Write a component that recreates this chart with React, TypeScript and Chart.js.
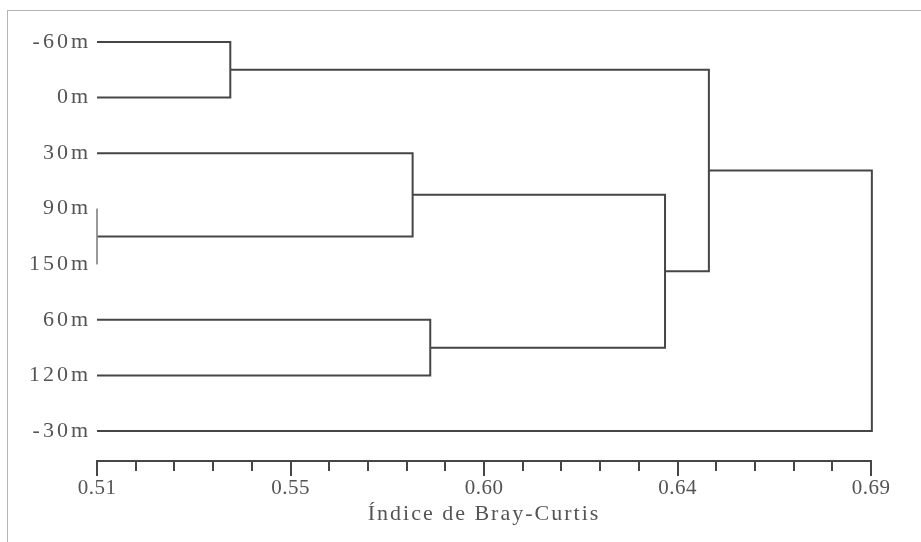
import React, { useEffect, useRef } from "react";
import { Chart, registerables } from "chart.js";

Chart.register(...registerables);

// Leaves from top to bottom
const LEAVES = ["-60m", "0m", "30m", "90m", "150m", "60m", "120m", "-30m"];

// Merges (children are leaf names or "M<n>" = n-th merge, 1-based)
const MERGE_LEFT = ["-60m", "90m", "30m", "60m", "M3", "M1", "M6"];
const MERGE_RIGHT = ["0m", "150m", "M2", "120m", "M4", "M5", "-30m"];
const MERGE_HEIGHT = [0.541, 0.51, 0.5834, 0.5875, 0.6421, 0.6523, 0.6902];

// Axis
const X_MIN = 0.51;
const X_MAX = 0.69;
const X_TICKS = [0.51, 0.555, 0.6, 0.645, 0.69];
const X_TICK_LABELS = ["0.51", "0.55", "0.60", "0.64", "0.69"];
const MINOR_DIV = 5;
const X_TITLE = "Índice de Bray-Curtis";

const LINE_COLOR = "#464646";
const TEXT_COLOR = "#545454";
const FONT_FAMILY = "'Liberation Serif', 'Times New Roman', serif";

type Pt = { x: number; y: number };

function buildSegments() {
  const nodes: Record<string, Pt> = {};
  LEAVES.forEach((name, i) => {
    nodes[name] = { x: X_MIN, y: i };
  });
  const segs: { pts: Pt[]; thin: boolean }[] = [];
  MERGE_HEIGHT.forEach((h, i) => {
    const a = nodes[MERGE_LEFT[i]];
    const b = nodes[MERGE_RIGHT[i]];
    segs.push({
      pts: [
        { x: a.x, y: a.y },
        { x: h, y: a.y },
        { x: h, y: b.y },
        { x: b.x, y: b.y },
      ],
      thin: h <= X_MIN,
    });
    nodes["M" + (i + 1)] = { x: h, y: (a.y + b.y) / 2 };
  });
  return segs;
}

const minorTicksPlugin = {
  id: "minorTicks",
  afterDraw(chart: any) {
    const xs = chart.scales.x;
    const ctx = chart.ctx;
    ctx.save();
    ctx.strokeStyle = LINE_COLOR;
    ctx.lineWidth = 2;
    for (let i = 0; i < X_TICKS.length - 1; i++) {
      for (let k = 1; k < MINOR_DIV; k++) {
        const v = X_TICKS[i] + ((X_TICKS[i + 1] - X_TICKS[i]) * k) / MINOR_DIV;
        const px = Math.round(xs.getPixelForValue(v));
        ctx.beginPath();
        ctx.moveTo(px, xs.top);
        ctx.lineTo(px, xs.top + 10);
        ctx.stroke();
      }
    }
    ctx.restore();
  },
};

const spacingPlugin = {
  id: "letterSpacing",
  beforeDraw(chart: any) {
    const patch = (scale: any, method: string, spacing: string) => {
      if (!scale || scale["__p_" + method]) return;
      const orig = scale[method];
      scale[method] = function (...args: any[]) {
        const ctx = this.ctx;
        const prev = ctx.letterSpacing;
        ctx.letterSpacing = spacing;
        try {
          orig.apply(this, args);
        } finally {
          ctx.letterSpacing = prev;
        }
      };
      scale["__p_" + method] = true;
    };
    patch(chart.scales.y, "drawLabels", "3px");
    patch(chart.scales.x, "drawLabels", "0.5px");
    patch(chart.scales.x, "drawTitle", "2px");
  },
};

export default function App() {
  const ref = useRef<HTMLCanvasElement | null>(null);

  useEffect(() => {
    if (!ref.current) return;
    const segs = buildSegments();
    const chart = new Chart(ref.current, {
      type: "scatter",
      data: {
        datasets: segs.map((s) => ({
          data: s.pts,
          showLine: true,
          clip: false,
          borderColor: s.thin ? "#8a8a8a" : LINE_COLOR,
          borderWidth: s.thin ? 1 : 2,
          pointRadius: 0,
          pointHoverRadius: 0,
          tension: 0,
          fill: false,
        })),
      },
      options: {
        animation: false,
        responsive: false,
        layout: { padding: { top: 14, right: 50, left: 0, bottom: 0 } },
        plugins: { legend: { display: false }, tooltip: { enabled: false } },
        scales: {
          x: {
            type: "linear",
            min: X_MIN,
            max: X_MAX,
            afterBuildTicks: (scale: any) => {
              scale.ticks = X_TICKS.map((v) => ({ value: v }));
            },
            afterFit: (scale: any) => {
              scale.height = 81;
              scale.paddingLeft = 0;
              scale.paddingRight = 0;
            },
            ticks: {
              callback: (_v: any, i: number) => X_TICK_LABELS[i],
              color: TEXT_COLOR,
              font: { family: FONT_FAMILY, size: 21 },
              padding: 0,
              maxRotation: 0,
              autoSkip: false,
            },
            grid: {
              display: true,
              drawOnChartArea: false,
              drawTicks: true,
              tickLength: 15,
              color: LINE_COLOR,
              lineWidth: 2,
            },
            border: { display: true, color: LINE_COLOR, width: 2 },
            title: {
              display: true,
              text: X_TITLE,
              color: TEXT_COLOR,
              font: { family: FONT_FAMILY, size: 22 },
              padding: { top: 0, bottom: 15 },
            },
          },
          y: {
            type: "linear",
            reverse: true,
            min: -0.504,
            max: 7.54,
            afterBuildTicks: (scale: any) => {
              scale.ticks = LEAVES.map((_, i) => ({ value: i }));
            },
            afterFit: (scale: any) => {
              scale.width = 97;
              scale.paddingTop = 0;
              scale.paddingBottom = 0;
            },
            ticks: {
              callback: (v: any) => LEAVES[v as number],
              color: TEXT_COLOR,
              font: { family: FONT_FAMILY, size: 22 },
              padding: 6,
              autoSkip: false,
            },
            grid: { display: false, drawTicks: false },
            border: { display: false },
          },
        },
      },
      plugins: [minorTicksPlugin, spacingPlugin],
    });
    return () => chart.destroy();
  }, []);

  return (
    <div style={{ position: "fixed", left: 0, top: 0, width: 921, height: 542, background: "#fff" }}>
      <div
        style={{
          position: "absolute",
          left: 7,
          top: 10,
          right: 0,
          bottom: 0,
          borderTop: "1px solid #b5b5b5",
          borderLeft: "1px solid #b5b5b5",
        }}
      />
      <canvas ref={ref} width={921} height={542} style={{ position: "absolute", left: 0, top: 0 }} />
    </div>
  );
}
